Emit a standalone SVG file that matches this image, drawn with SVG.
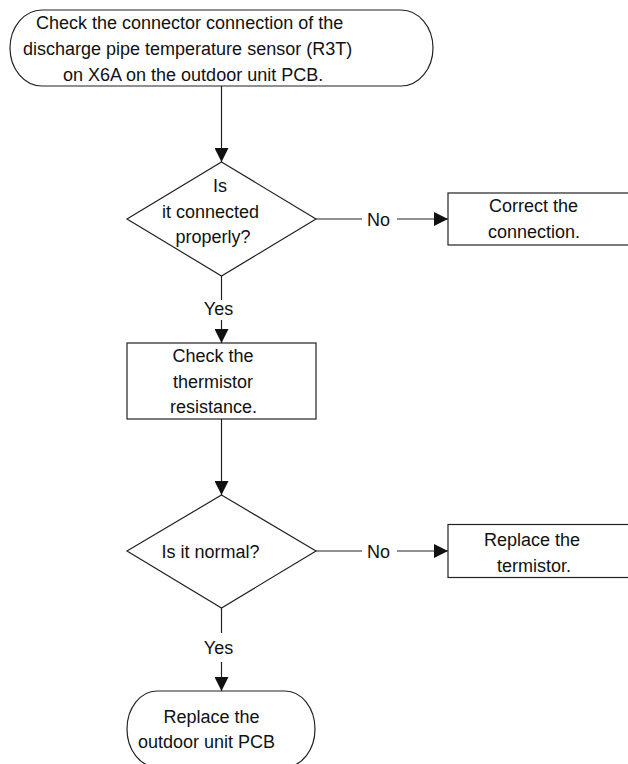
<svg xmlns="http://www.w3.org/2000/svg" width="628" height="764" viewBox="0 0 628 764">
<style>
.shape{fill:#fff;stroke:#222;stroke-width:1.2}
.t{font-family:"Liberation Sans",Arial,Helvetica,sans-serif;font-size:18px;fill:#111}
.m{text-anchor:middle}
.line{stroke:#222;stroke-width:1.2;fill:none}
</style>
<defs>
<marker id="ah" viewBox="0 0 14 14" refX="14" refY="7" markerWidth="14" markerHeight="14" markerUnits="userSpaceOnUse" orient="auto">
<path d="M0,0 L14,7 L0,14 Z" fill="#111"/>
</marker>
</defs>
<rect width="628" height="764" fill="#fff"/>
<g id="connectors">
<line class="line" x1="221.5" y1="86" x2="221.5" y2="162" marker-end="url(#ah)"/>
<line class="line" x1="316" y1="219" x2="362" y2="219"/>
<line class="line" x1="397" y1="219" x2="448" y2="219" marker-end="url(#ah)"/>
<text class="t" x="367" y="225.5">No</text>
<line class="line" x1="221.5" y1="276" x2="221.5" y2="300"/>
<text class="t m" x="218.5" y="315">Yes</text>
<line class="line" x1="221.5" y1="320" x2="221.5" y2="343" marker-end="url(#ah)"/>
<line class="line" x1="221.5" y1="419" x2="221.5" y2="495" marker-end="url(#ah)"/>
<line class="line" x1="316" y1="551" x2="362" y2="551"/>
<line class="line" x1="397" y1="551" x2="448" y2="551" marker-end="url(#ah)"/>
<text class="t" x="367" y="557.5">No</text>
<line class="line" x1="221.5" y1="608" x2="221.5" y2="633"/>
<text class="t m" x="218.5" y="654">Yes</text>
<line class="line" x1="221.5" y1="662" x2="221.5" y2="691" marker-end="url(#ah)"/>
</g>
<g id="start">
<rect class="shape" x="10" y="10" width="423" height="76" rx="32" ry="38"/>
<text class="t" x="36" y="29">Check the connector connection of the</text>
<text class="t" x="23" y="55">discharge pipe temperature sensor (R3T)</text>
<text class="t" x="63" y="81">on X6A on the outdoor unit PCB.</text>
</g>
<g id="decision1">
<polygon class="shape" points="221.5,162 316,219 221.5,276 127,219"/>
<text class="t m" x="220" y="192">Is</text>
<text class="t m" x="210.5" y="218">it connected</text>
<text class="t m" x="213" y="243">properly?</text>
</g>
<g id="correct">
<rect class="shape" x="448" y="193" width="200" height="52"/>
<text class="t m" x="533.5" y="212">Correct the</text>
<text class="t m" x="534" y="238">connection.</text>
</g>
<g id="check">
<rect class="shape" x="127" y="343" width="189" height="76"/>
<text class="t m" x="213" y="362">Check the</text>
<text class="t m" x="213" y="388">thermistor</text>
<text class="t m" x="213.5" y="413">resistance.</text>
</g>
<g id="decision2">
<polygon class="shape" points="221.5,495 316,551 221.5,608 127,551"/>
<text class="t m" x="210.5" y="558">Is it normal?</text>
</g>
<g id="replace-thermistor">
<rect class="shape" x="448" y="524.5" width="200" height="53"/>
<text class="t m" x="532" y="546">Replace the</text>
<text class="t m" x="534" y="571.5">termistor.</text>
</g>
<g id="end">
<rect class="shape" x="127" y="691" width="188" height="76" rx="30" ry="38"/>
<text class="t m" x="211.5" y="723">Replace the</text>
<text class="t m" x="206.5" y="748">outdoor unit PCB</text>
</g>
</svg>
